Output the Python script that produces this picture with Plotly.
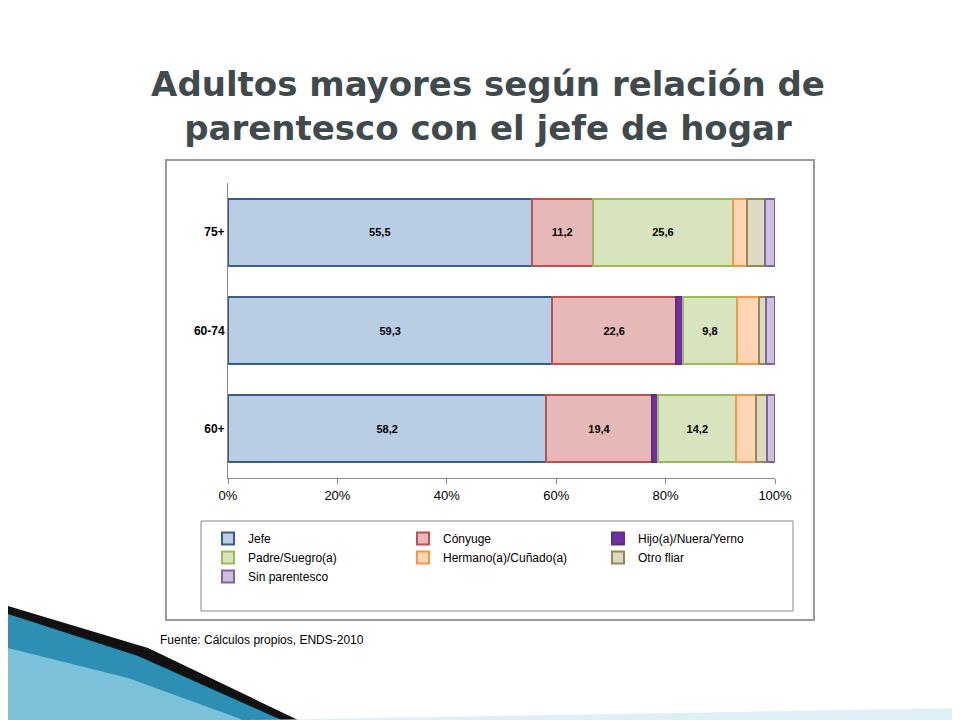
import plotly.graph_objects as go

groups = ["60+", "60-74", "75+"]
series = ["Jefe", "Cónyuge", "Hijo(a)/Nuera/Yerno", "Padre/Suegro(a)",
          "Hermano(a)/Cuñado(a)", "Otro fliar", "Sin parentesco"]
jefe = [58.2, 59.3, 55.5]
conyuge = [19.4, 22.6, 11.2]
hijo = [1.1, 1.3, 0.0]
padre = [14.2, 9.8, 25.6]
hermano = [3.6, 4.0, 2.5]
otro = [2.0, 1.4, 3.3]
sin_par = [1.5, 1.6, 1.9]
values = [jefe, conyuge, hijo, padre, hermano, otro, sin_par]
labelled = [True, True, False, True, False, False, False]

fills = ["#B9CDE5", "#E6B9B8", "#7030A0", "#D7E4BD", "#FCD5B5", "#DDD9C3", "#CCC1DA"]
lines = ["#385D8A", "#C0504D", "#5F2C8A", "#9BBB59", "#F79646", "#948A54", "#8064A2"]

L, R, T, B = 220, 767, 175, 470
def px(x, y):
    return (x - L) / (R - L), (B - y) / (B - T)

fig = go.Figure()
for name, vals, lab, fc, lc in zip(series, values, labelled, fills, lines):
    fig.add_trace(go.Bar(
        y=groups, x=vals, name=name, orientation="h",
        marker=dict(color=fc, line=dict(color=lc, width=2)),
        text=[f"{v:.1f}".replace(".", ",") for v in vals] if lab else None,
        textposition="inside", insidetextanchor="middle",
        textfont=dict(family="Liberation Sans", size=11, color="black", weight="bold"),
        hoverinfo="x+name",
    ))

shapes = []
x0, y0 = px(158, 612); x1, y1 = px(806, 152)
shapes.append(dict(type="rect", xref="paper", yref="paper", x0=x0, y0=y0, x1=x1, y1=y1,
                   line=dict(color="#9a9a9a", width=2), layer="below"))
lx0, ly0 = px(193, 603); lx1, ly1 = px(785, 513)
shapes.append(dict(type="rect", xref="paper", yref="paper", x0=lx0, y0=ly0, x1=lx1, y1=ly1,
                   line=dict(color="#888888", width=1), layer="below"))

def poly(pts, color, opacity=1.0):
    p = [px(a, b) for a, b in pts]
    path = "M " + " L ".join(f"{a},{b}" for a, b in p) + " Z"
    return dict(type="path", xref="paper", yref="paper", path=path,
                fillcolor=color, line=dict(width=0), opacity=opacity)

shapes.append(poly([(0, 605), (90, 630), (210, 680), (300, 720), (0, 720)], "#2E8FB5"))
shapes.append(poly([(0, 640), (120, 670), (230, 710), (250, 720), (0, 720)], "#8FCDE3", 0.8))
shapes.append(poly([(0, 598), (140, 640), (290, 712), (280, 715), (130, 648), (0, 606)], "#111111"))
shapes.append(poly([(240, 712), (960, 700), (960, 720), (260, 720)], "#D6EBF3", 0.8))

fig.update_layout(
    width=960, height=720,
    margin=dict(l=L, r=960 - R, t=T, b=720 - B, autoexpand=False),
    paper_bgcolor="white", plot_bgcolor="white",
    barmode="stack", bargap=0.32,
    title=dict(text="<b>Adultos mayores según relación de<br>parentesco con el jefe de hogar</b>",
               x=0.5, xref="container", y=0.878, yanchor="middle",
               font=dict(family="DejaVu Sans", size=34, color="#3F4A4E")),
    xaxis=dict(range=[0, 100], tickvals=[0, 20, 40, 60, 80, 100],
               ticktext=["0%", "20%", "40%", "60%", "80%", "100%"],
               showgrid=False, showline=True, linecolor="#888888", linewidth=1,
               ticks="outside", tickcolor="#888888", ticklen=5,
               tickfont=dict(family="Liberation Sans", size=13, color="black")),
    yaxis=dict(showgrid=False, showline=True, linecolor="#888888", linewidth=1,
               ticks="", tickfont=dict(family="Liberation Sans", size=12, color="black", weight="bold")),
    legend=dict(orientation="h", x=px(200, 0)[0], y=px(0, 516)[1], xanchor="left", yanchor="top",
                entrywidth=150, borderwidth=0, bgcolor="rgba(0,0,0,0)", traceorder="normal",
                itemwidth=30, tracegroupgap=0,
                font=dict(family="Liberation Sans", size=12, color="black")),
    shapes=shapes,
    annotations=[dict(text="Fuente: Cálculos propios, ENDS-2010", xref="paper", yref="paper",
                      x=px(150, 0)[0], y=px(0, 632)[1], xanchor="left", yanchor="middle",
                      showarrow=False, font=dict(family="Liberation Sans", size=12, color="black"))],
)
fig.write_html("out.html")
